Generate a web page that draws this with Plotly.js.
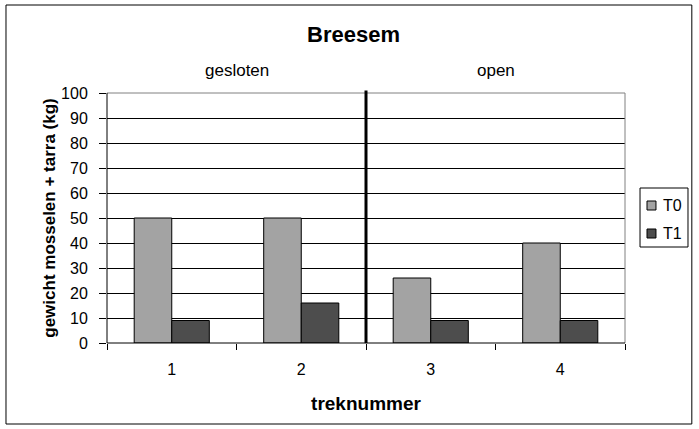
<!DOCTYPE html>
<html>
<head>
<meta charset="utf-8">
<script src="https://cdn.plot.ly/plotly-3.0.1.min.js"></script>
<style>html,body{margin:0;padding:0;background:#fff;}#chart{width:699px;height:429px;}</style>
</head>
<body>
<div id="chart"></div>
<script>
const categories = ["1", "2", "3", "4"];
const seriesNames = ["T0", "T1"];
const valuesT0 = [50, 50, 26, 40];
const valuesT1 = [9, 16, 9, 9];
const groupLabels = ["gesloten", "open"];
const yTicks = [0, 10, 20, 30, 40, 50, 60, 70, 80, 90, 100];
const seriesColors = ["#a3a3a3", "#4d4d4d"];

const font = "Liberation Sans, Arial, sans-serif";

const traces = [
  {type: "bar", name: seriesNames[0], x: categories, y: valuesT0,
   marker: {color: seriesColors[0], line: {color: "#000", width: 1}}},
  {type: "bar", name: seriesNames[1], x: categories, y: valuesT1,
   marker: {color: seriesColors[1], line: {color: "#000", width: 1}}}
];

// legend box (drawn as a panel at the right, as in the original)
const legendShapes = [
  {type: "rect", xref: "paper", yref: "paper", x0: 1.029, x1: 1.1216, y0: 0.384, y1: 0.62,
   line: {color: "#000", width: 1}, fillcolor: "#fff"}
];
const legendAnn = [];
const legendRowsY = [0.55, 0.438];
seriesNames.forEach((n, i) => {
  const yc = legendRowsY[i];
  legendShapes.push({type: "rect", xref: "paper", yref: "paper", x0: 1.0425, x1: 1.0598,
    y0: yc - 0.018, y1: yc + 0.018, line: {color: "#000", width: 1}, fillcolor: seriesColors[i]});
  legendAnn.push({text: n, xref: "paper", yref: "paper", x: 1.069, y: yc, xanchor: "left", yanchor: "middle",
    showarrow: false, font: {size: 16, family: font}});
});

const layout = {
  width: 699, height: 429,
  margin: {l: 107, r: 74, t: 93, b: 86, autoexpand: false},
  paper_bgcolor: "#fff", plot_bgcolor: "#fff",
  font: {family: font, color: "#000", size: 16},
  barmode: "group", bargap: 0.42, bargroupgap: 0,
  showlegend: false,
  xaxis: {type: "category", tickson: "boundaries", ticks: "outside", ticklen: 6,
          tickcolor: "#000", showgrid: false, showline: false, zeroline: false,
          tickfont: {size: 16, family: font}, automargin: false, ticklabelstandoff: 15,
          title: {text: "<b>treknummer</b>", font: {size: 19, family: font}, standoff: 19}},
  yaxis: {range: [0, 100], tickvals: yTicks, ticks: "outside", ticklen: 7, tickcolor: "#000",
          showgrid: true, gridcolor: "#000", gridwidth: 1, zeroline: false, showline: false,
          tickfont: {size: 16, family: font}, automargin: false, ticklabelstandoff: 8,
          title: {text: "<b>gewicht mosselen + tarra (kg)</b>", font: {size: 17, family: font}, standoff: 1}},
  shapes: [
    // outer chart border
    {type: "rect", xref: "paper", yref: "paper", x0: -0.195, x1: 1.129, y0: -0.324, y1: 1.352,
     line: {color: "#000", width: 1}},
    // plot area top & right (gray)
    {type: "line", xref: "paper", yref: "paper", x0: 0, x1: 1, y0: 1, y1: 1, line: {color: "#808080", width: 1}, layer: "above"},
    {type: "line", xref: "paper", yref: "paper", x0: 1, x1: 1, y0: 0, y1: 1, line: {color: "#808080", width: 1}, layer: "above"},
    // axis lines
    {type: "line", xref: "paper", yref: "paper", x0: 0, x1: 0, y0: 0, y1: 1, line: {color: "#000", width: 1}, layer: "above"},
    {type: "line", xref: "paper", yref: "paper", x0: 0, x1: 1, y0: 0, y1: 0, line: {color: "#000", width: 1}, layer: "above"},
    // divider between gesloten and open
    {type: "line", xref: "x", yref: "paper", x0: 1.5, x1: 1.5, y0: 0, y1: 1.01, line: {color: "#000", width: 3}, layer: "above"}
  ].concat(legendShapes),
  annotations: [
    {text: "<b>Breesem</b>", xref: "paper", yref: "paper", x: 0.476, y: 1.234, xanchor: "center", yanchor: "middle",
     showarrow: false, font: {size: 22, family: font}},
    {text: groupLabels[0], xref: "x", yref: "paper", x: 0.5, y: 1.09, xanchor: "center", yanchor: "middle",
     showarrow: false, font: {size: 17, family: font}},
    {text: groupLabels[1], xref: "x", yref: "paper", x: 2.5, y: 1.09, xanchor: "center", yanchor: "middle",
     showarrow: false, font: {size: 17, family: font}}
  ].concat(legendAnn)
};

Plotly.newPlot("chart", traces, layout, {displayModeBar: false, staticPlot: true});
</script>
</body>
</html>
